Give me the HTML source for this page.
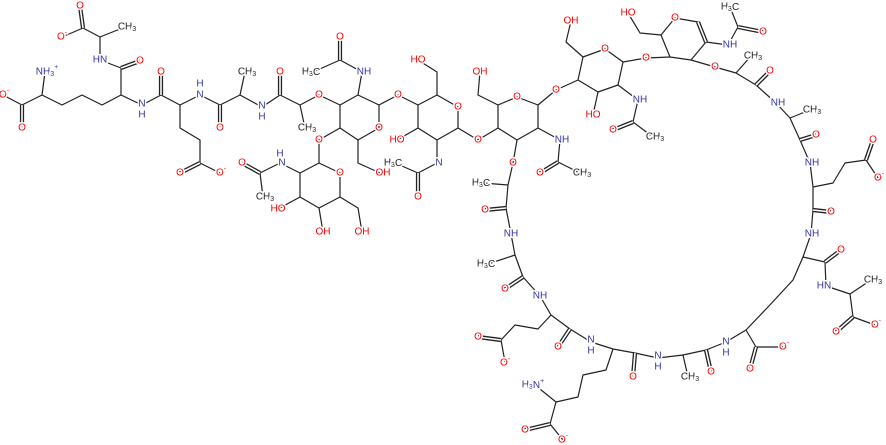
<!DOCTYPE html>
<html><head><meta charset="utf-8"><style>
html,body{margin:0;padding:0;background:#fff;}
svg{display:block;}
line,polyline,polygon{stroke:#222;stroke-width:1.2;fill:none;stroke-linejoin:round}
.d{stroke-width:4.2}
.w{stroke:#fff;stroke-width:1.6}
text{font-family:"Liberation Sans",sans-serif;font-size:10px;text-anchor:middle;dominant-baseline:central;paint-order:stroke;stroke:#fff;stroke-width:3px;}
.o{fill:#f00}.n{fill:#33a}.c{fill:#222}
tspan.s{font-size:7px}
</style></head><body>
<svg width="886" height="445" viewBox="0 0 886 445" xmlns="http://www.w3.org/2000/svg">
<g>
<!-- left chain -->
<polyline points="62,37 83,28 100,37 125,27"/>
<polyline points="100,37 100,60 121,68 121,95 142,105 161,95 180,105 200,95 220,105 240,95 262,107 280,95 300,105 319,95 340,105"/>
<line x1="240" y1="95" x2="245" y2="72"/>
<line x1="300" y1="105" x2="305" y2="128"/>
<polyline points="3,95 22,105 42,95 62,105 82,95 102,105 121,95"/>
<line x1="42" y1="95" x2="45" y2="72"/>
<polyline points="180,105 180,128 200,140 200,163 220,173"/>
<!-- ring 1 -->
<polygon points="340,105 358,95 379,105 379,128 358,140 340,128"/>
<polyline points="358,95 362,72 340,60 313,72"/>
<polyline points="358,140 358,163 380,173"/>
<polyline points="340,128 319,140 319,163"/>
<polygon points="319,163 340,173 340,197 319,208 300,197 300,173"/>
<polyline points="300,173 280,163 260,173 263,197"/>
<line x1="300" y1="197" x2="278" y2="209"/>
<line x1="319" y1="208" x2="323" y2="232"/>
<polyline points="340,197 358,208 362,232"/>
<polyline points="379,105 398,95 418,105"/>
<!-- ring 2 -->
<polygon points="418,105 437,95 458,107 458,128 437,140 418,128"/>
<polyline points="437,95 437,72 418,60"/>
<line x1="418" y1="128" x2="397" y2="140"/>
<polyline points="437,140 437,163 418,173"/>
<line x1="418" y1="173" x2="395" y2="163"/>
<polyline points="458,128 478,140 498,128"/>
<!-- ring 3 -->
<polygon points="498,128 498,105 517,97 538,105 538,128 517,140"/>
<polyline points="498,105 478,95 480,72"/>
<polyline points="538,128 560,140 558,162 580,173"/>
<polyline points="517,140 513,163 508,185 506,208 511,234 515,255"/>
<line x1="508" y1="185" x2="483" y2="183"/>
<polyline points="538,105 556,90 578,80"/>
<!-- ring 4 -->
<polygon points="578,80 583,57 605,49 623,62 618,85 598,92"/>
<polyline points="583,57 566,42 571,21"/>
<line x1="598" y1="92" x2="593" y2="115"/>
<polyline points="618,85 638,100 633,122 653,137"/>
<polyline points="623,62 646,58 670,57"/>
<!-- ring 5 -->
<polygon points="670,57 661,35 675,18 698,22 706,42 691,60"/>
<polyline points="661,35 640,33 628,13"/>
<polyline points="706,42 728,45 738,27 730,7"/>
<!-- macrocycle -->
<polyline points="691,60 715,67 736,73 756,85 776,103 790,118 800,140 810,163 813,187 813,210 811,234 803,257 793,280 768,307 746,330 726,342 706,350 683,355 658,358 635,353 613,349 591,342 570,329 551,315 540,296 523,277 515,255"/>
<line x1="736" y1="73" x2="751" y2="56"/>
<line x1="790" y1="118" x2="810" y2="110"/>
<polyline points="813,187 833,183 845,163 866,160 878,178"/>
<polyline points="803,257 825,262 826,286 850,294 871,280"/>
<polyline points="850,294 853,317 875,325"/>
<polyline points="746,330 756,347 783,347"/>
<line x1="683" y1="355" x2="688" y2="377"/>
<line x1="515" y1="255" x2="488" y2="264"/>
<polyline points="551,315 538,329 515,325 501,340 505,362"/>
<polyline points="613,349 606,370 583,375 578,397 556,402 550,424 563,440"/>
<line x1="556" y1="402" x2="535" y2="385"/>
</g>
<g id="dbl">
<line class="d" x1="83" y1="28" x2="80" y2="6"/><line class="d" x1="121" y1="68" x2="140" y2="61"/>
<line class="d" x1="161" y1="95" x2="161" y2="72"/><line class="d" x1="220" y1="105" x2="220" y2="128"/>
<line class="d" x1="280" y1="95" x2="280" y2="72"/><line class="d" x1="22" y1="105" x2="22" y2="128"/>
<line class="d" x1="200" y1="163" x2="180" y2="173"/><line class="d" x1="340" y1="60" x2="340" y2="37"/>
<line class="d" x1="260" y1="173" x2="242" y2="163"/><line class="d" x1="418" y1="173" x2="418" y2="197"/>
<line class="d" x1="558" y1="162" x2="540" y2="173"/><line class="d" x1="506" y1="208" x2="485" y2="210"/>
<line class="d" x1="633" y1="122" x2="613" y2="130"/><line class="d" x1="698" y1="22" x2="706" y2="42"/>
<line class="d" x1="738" y1="27" x2="763" y2="32"/><line class="d" x1="756" y1="85" x2="770" y2="71"/>
<line class="d" x1="800" y1="140" x2="816" y2="135"/><line class="d" x1="866" y1="160" x2="873" y2="140"/>
<line class="d" x1="813" y1="210" x2="831" y2="212"/><line class="d" x1="825" y1="262" x2="841" y2="250"/>
<line class="d" x1="853" y1="317" x2="836" y2="332"/><line class="d" x1="756" y1="347" x2="750" y2="369"/>
<line class="d" x1="706" y1="350" x2="711" y2="372"/><line class="d" x1="635" y1="353" x2="633" y2="377"/>
<line class="d" x1="570" y1="329" x2="558" y2="347"/><line class="d" x1="523" y1="277" x2="505" y2="289"/>
<line class="d" x1="501" y1="340" x2="478" y2="337"/><line class="d" x1="550" y1="424" x2="525" y2="430"/>
</g>
<g>
<line class="w" x1="83" y1="28" x2="80" y2="6"/><line class="w" x1="121" y1="68" x2="140" y2="61"/>
<line class="w" x1="161" y1="95" x2="161" y2="72"/><line class="w" x1="220" y1="105" x2="220" y2="128"/>
<line class="w" x1="280" y1="95" x2="280" y2="72"/><line class="w" x1="22" y1="105" x2="22" y2="128"/>
<line class="w" x1="200" y1="163" x2="180" y2="173"/><line class="w" x1="340" y1="60" x2="340" y2="37"/>
<line class="w" x1="260" y1="173" x2="242" y2="163"/><line class="w" x1="418" y1="173" x2="418" y2="197"/>
<line class="w" x1="558" y1="162" x2="540" y2="173"/><line class="w" x1="506" y1="208" x2="485" y2="210"/>
<line class="w" x1="633" y1="122" x2="613" y2="130"/><line class="w" x1="698" y1="22" x2="706" y2="42"/>
<line class="w" x1="738" y1="27" x2="763" y2="32"/><line class="w" x1="756" y1="85" x2="770" y2="71"/>
<line class="w" x1="800" y1="140" x2="816" y2="135"/><line class="w" x1="866" y1="160" x2="873" y2="140"/>
<line class="w" x1="813" y1="210" x2="831" y2="212"/><line class="w" x1="825" y1="262" x2="841" y2="250"/>
<line class="w" x1="853" y1="317" x2="836" y2="332"/><line class="w" x1="756" y1="347" x2="750" y2="369"/>
<line class="w" x1="706" y1="350" x2="711" y2="372"/><line class="w" x1="635" y1="353" x2="633" y2="377"/>
<line class="w" x1="570" y1="329" x2="558" y2="347"/><line class="w" x1="523" y1="277" x2="505" y2="289"/>
<line class="w" x1="501" y1="340" x2="478" y2="337"/><line class="w" x1="550" y1="424" x2="525" y2="430"/>
</g>
<g>
<!-- oxygen labels -->
<text class="o" x="80" y="6">O</text><text class="o" x="62" y="37">O<tspan class="s" dy="-4">-</tspan></text>
<text class="o" x="140" y="61">O</text><text class="o" x="161" y="72">O</text><text class="o" x="220" y="128">O</text>
<text class="o" x="280" y="72">O</text><text class="o" x="319" y="95">O</text><text class="o" x="4" y="95">O<tspan class="s" dy="-4">-</tspan></text>
<text class="o" x="22" y="128">O</text><text class="o" x="180" y="173">O</text><text class="o" x="221" y="173">O<tspan class="s" dy="-4">-</tspan></text>
<text class="o" x="340" y="37">O</text><text class="o" x="379" y="128">O</text><text class="o" x="383" y="173">OH</text>
<text class="o" x="319" y="140">O</text><text class="o" x="340" y="173">O</text><text class="o" x="242" y="163">O</text>
<text class="o" x="278" y="209">HO</text><text class="o" x="323" y="232">OH</text><text class="o" x="362" y="232">OH</text>
<text class="o" x="398" y="95">O</text><text class="o" x="458" y="107">O</text><text class="o" x="418" y="60">HO</text>
<text class="o" x="397" y="140">HO</text><text class="o" x="418" y="197">O</text><text class="o" x="478" y="140">O</text>
<text class="o" x="517" y="97">O</text><text class="o" x="480" y="72">OH</text><text class="o" x="540" y="173">O</text>
<text class="o" x="513" y="163">O</text><text class="o" x="485" y="210">O</text><text class="o" x="556" y="90">O</text>
<text class="o" x="605" y="49">O</text><text class="o" x="571" y="21">OH</text><text class="o" x="593" y="115">HO</text>
<text class="o" x="613" y="130">O</text><text class="o" x="646" y="58">O</text><text class="o" x="675" y="18">O</text>
<text class="o" x="628" y="13">HO</text><text class="o" x="763" y="32">O</text><text class="o" x="715" y="67">O</text>
<text class="o" x="770" y="71">O</text><text class="o" x="816" y="135">O</text><text class="o" x="873" y="140">O</text>
<text class="o" x="879" y="178">O<tspan class="s" dy="-4">-</tspan></text><text class="o" x="831" y="212">O</text>
<text class="o" x="841" y="250">O</text><text class="o" x="836" y="332">O</text><text class="o" x="876" y="325">O<tspan class="s" dy="-4">-</tspan></text>
<text class="o" x="750" y="369">O</text><text class="o" x="784" y="347">O<tspan class="s" dy="-4">-</tspan></text>
<text class="o" x="711" y="372">O</text><text class="o" x="633" y="377">O</text><text class="o" x="558" y="347">O</text>
<text class="o" x="505" y="289">O</text><text class="o" x="478" y="337">O</text><text class="o" x="505" y="363">O<tspan class="s" dy="-4">-</tspan></text>
<text class="o" x="525" y="430">O</text><text class="o" x="563" y="440">O<tspan class="s" dy="-4">-</tspan></text>
<!-- nitrogen labels -->
<text class="n" x="100" y="60">HN</text><text class="n" x="142" y="104">N</text><text class="n" x="142" y="115">H</text>
<text class="n" x="200" y="95">N</text><text class="n" x="200" y="84">H</text>
<text class="n" x="262" y="106">N</text><text class="n" x="262" y="117">H</text>
<text class="n" x="47" y="72">NH<tspan class="s" dy="2">3</tspan><tspan class="s" dy="-7">+</tspan></text>
<text class="n" x="364" y="72">NH</text><text class="n" x="282" y="163">N</text><text class="n" x="280" y="154">H</text>
<text class="n" x="439" y="163">N</text><text class="n" x="562" y="140">NH</text><text class="n" x="640" y="100">NH</text>
<text class="n" x="730" y="45">NH</text><text class="n" x="778" y="103">NH</text><text class="n" x="812" y="163">NH</text>
<text class="n" x="812" y="234">NH</text><text class="n" x="824" y="286">HN</text><text class="n" x="726" y="342">N</text><text class="n" x="726" y="353">H</text>
<text class="n" x="658" y="356">N</text><text class="n" x="658" y="367">H</text><text class="n" x="591" y="340">N</text><text class="n" x="591" y="351">H</text>
<text class="n" x="540" y="296">NH</text><text class="n" x="511" y="234">NH</text>
<text class="n" x="533" y="385">H<tspan class="s" dy="2">3</tspan><tspan dy="-2">N</tspan><tspan class="s" dy="-4">+</tspan></text>
<!-- carbon labels -->
<text class="c" x="127" y="27">CH<tspan class="s" dy="2">3</tspan></text><text class="c" x="247" y="72">CH<tspan class="s" dy="2">3</tspan></text>
<text class="c" x="307" y="128">CH<tspan class="s" dy="2">3</tspan></text><text class="c" x="311" y="72">H<tspan class="s" dy="2">3</tspan><tspan dy="-2">C</tspan></text>
<text class="c" x="265" y="197">CH<tspan class="s" dy="2">3</tspan></text><text class="c" x="393" y="163">H<tspan class="s" dy="2">3</tspan><tspan dy="-2">C</tspan></text>
<text class="c" x="582" y="173">CH<tspan class="s" dy="2">3</tspan></text><text class="c" x="481" y="183">H<tspan class="s" dy="2">3</tspan><tspan dy="-2">C</tspan></text>
<text class="c" x="655" y="137">CH<tspan class="s" dy="2">3</tspan></text><text class="c" x="730" y="7">H<tspan class="s" dy="2">3</tspan><tspan dy="-2">C</tspan></text>
<text class="c" x="753" y="56">CH<tspan class="s" dy="2">3</tspan></text><text class="c" x="812" y="110">CH<tspan class="s" dy="2">3</tspan></text>
<text class="c" x="873" y="280">CH<tspan class="s" dy="2">3</tspan></text><text class="c" x="690" y="377">CH<tspan class="s" dy="2">3</tspan></text>
<text class="c" x="486" y="264">H<tspan class="s" dy="2">3</tspan><tspan dy="-2">C</tspan></text>
</g>
</svg>
</body></html>
